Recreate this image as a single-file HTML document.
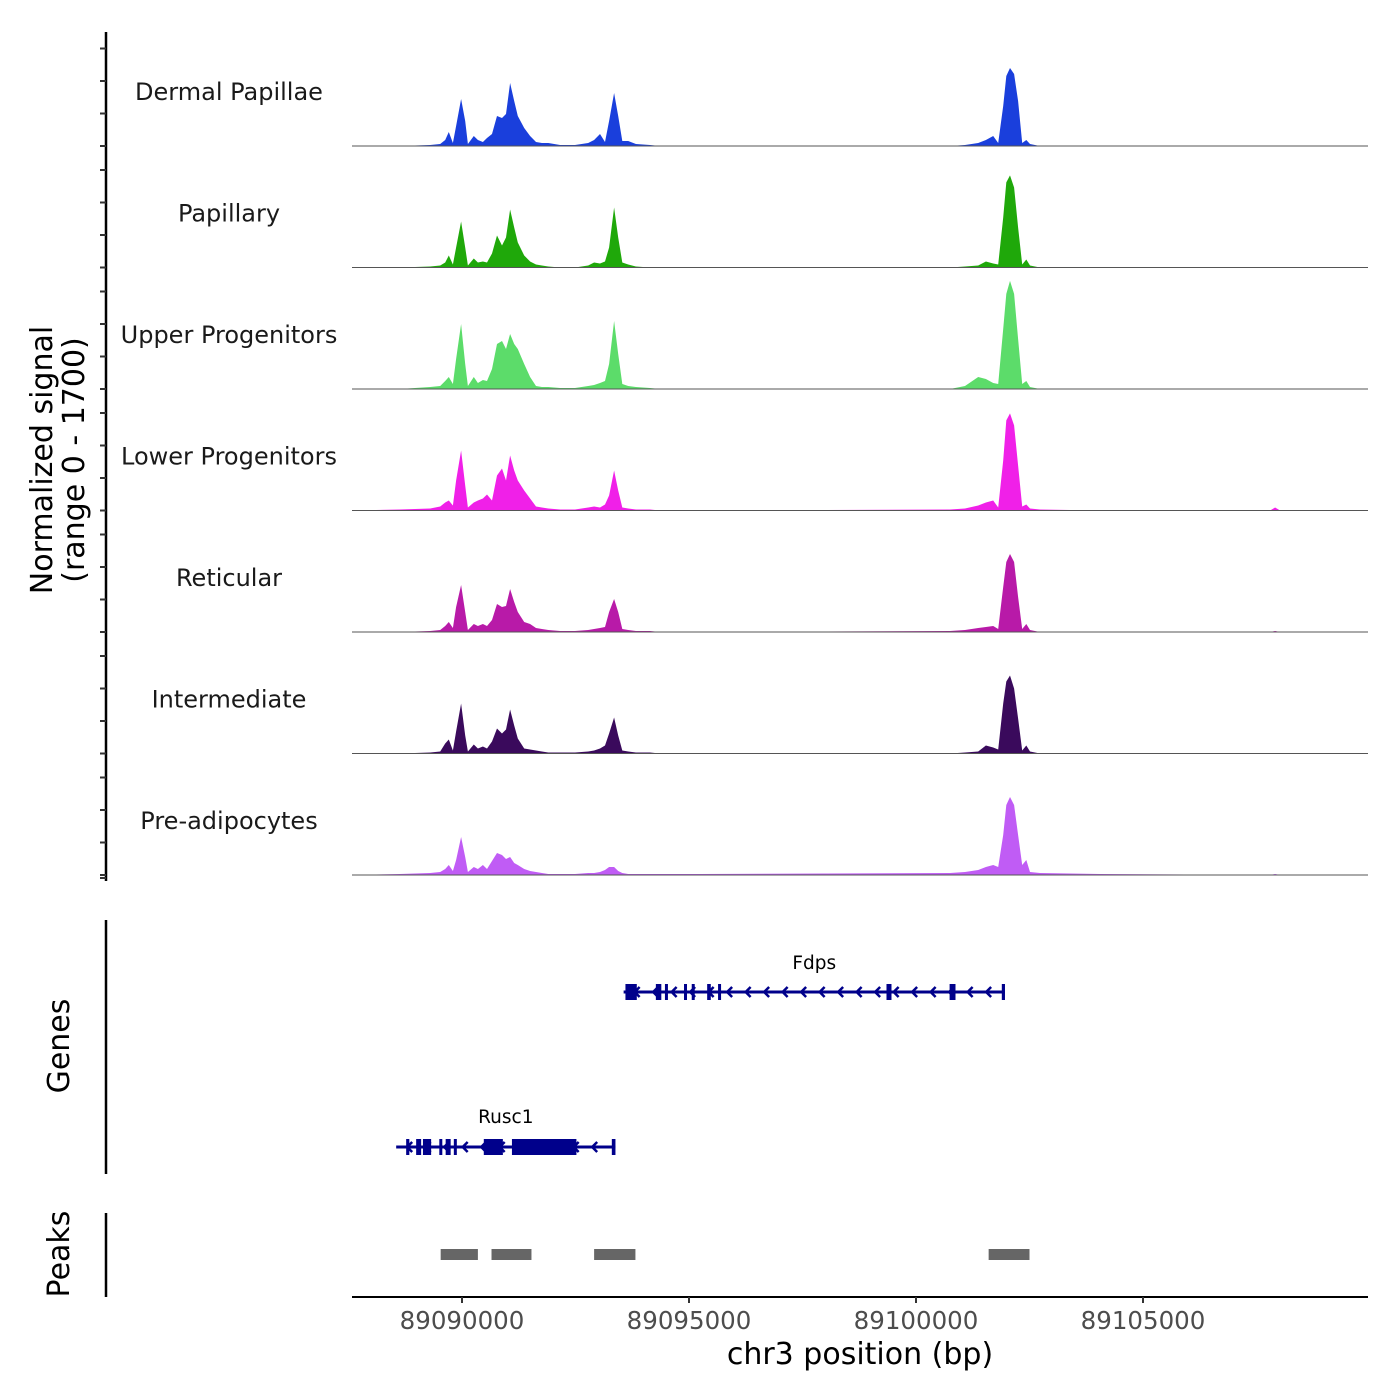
<!DOCTYPE html>
<html><head><meta charset="utf-8"><style>
html,body{margin:0;padding:0;background:#fff}
svg{display:block;font-family:"DejaVu Sans","Liberation Sans",sans-serif}
</style></head><body>
<svg id="chart" width="1400" height="1400" viewBox="0 0 1400 1400">
<g id="tracks"></g>
<g id="genes"></g>
<g id="peaks"></g>
<g id="axes"></g>
</svg>
<script>
const trackNames = ["Dermal Papillae","Papillary","Upper Progenitors","Lower Progenitors","Reticular","Intermediate","Pre-adipocytes"];
const trackColors = ["#1a3fdc","#1fa80a","#5cdc6a","#f020e8","#b81aa8","#3a0a5c","#c05cf5"];
const positions = [89087580,89088630,89089300,89089520,89089630,89089710,89089800,89089870,89089980,89090070,89090130,89090260,89090350,89090460,89090550,89090660,89090770,89090880,89090970,89091060,89091150,89091230,89091370,89091500,89091630,89091760,89091900,89092160,89092490,89092780,89092910,89093040,89093150,89093240,89093350,89093440,89093530,89093660,89093830,89094140,89094360,89095240,89100750,89101080,89101370,89101540,89101700,89101810,89101920,89101990,89102070,89102160,89102250,89102340,89102430,89102510,89102730,89104060,89107800,89107910,89108020,89109950];
const dermalPapillae = [0,0,14,28,84,196,42,280,658,350,28,140,84,56,112,168,420,392,448,882,630,420,252,140,56,42,42,14,14,42,84,168,56,350,742,420,70,70,28,14,0,0,0,14,42,84,140,42,560,980,1092,1008,630,42,84,28,0,0,0,0,0,0];
const papillary = [0,0,14,28,70,168,42,280,644,280,28,126,70,84,70,196,448,308,420,812,560,350,168,84,42,28,14,0,0,28,70,56,84,280,840,420,70,42,14,0,0,0,0,14,28,84,56,42,700,1190,1288,1120,560,42,112,28,0,0,0,0,0,0];
const upperProgenitors = [0,0,28,42,112,168,70,420,910,350,42,168,84,126,112,280,630,672,560,770,630,560,350,168,42,28,28,14,14,42,56,84,112,350,952,490,70,42,28,14,0,0,0,42,168,140,84,70,840,1330,1512,1330,700,70,112,28,0,0,0,0,0,0];
const lowerProgenitors = [0,14,28,56,112,140,70,420,840,350,42,112,140,168,224,140,490,588,420,770,560,420,280,168,56,42,28,14,14,42,56,42,84,210,560,280,42,28,14,14,0,0,14,28,70,112,140,42,700,1260,1358,1190,630,56,84,28,14,0,0,42,0,0];
const reticular = [0,0,14,28,84,140,56,350,658,280,28,112,84,112,84,168,392,350,364,602,420,280,140,112,56,42,28,14,14,28,42,56,70,280,462,280,42,28,14,14,0,0,14,28,56,70,84,42,630,980,1092,980,490,42,112,28,0,0,0,14,0,0];
const intermediate = [0,0,14,28,140,196,42,308,700,252,28,126,70,98,70,168,350,280,336,616,392,210,70,56,42,28,14,14,14,28,42,70,112,280,504,252,42,28,14,14,0,0,0,14,28,112,84,56,700,1008,1092,910,490,42,112,28,0,0,0,0,0,0];
const preAdipocytes = [0,14,28,42,84,140,56,210,532,252,42,112,84,140,84,196,308,280,224,252,168,140,84,56,42,28,14,14,14,28,28,42,70,112,112,56,28,14,14,14,14,14,28,42,70,112,140,112,560,980,1092,980,560,140,210,42,28,14,0,14,0,0];
const xTicks = [89090000,89095000,89100000,89105000];
const xTickLabels = ["89090000","89095000","89100000","89105000"];
const fdpsExons = [[89093600,89093850],[89094270,89094390],[89094470,89094530],[89094890,89094930],[89095060,89095110],[89095400,89095480],[89095640,89095700],[89099350,89099460],[89100740,89100870],[89101890,89101960]];
const rusc1Exons = [[89088770,89088840],[89088990,89089100],[89089140,89089320],[89089500,89089560],[89089640,89089750],[89089820,89089860],[89090480,89090900],[89091100,89092520],[89093300,89093380]];
const fdpsRange = [89093560,89101960];
const rusc1Range = [89088550,89093380];
const peakStarts = [89089530,89090650,89092910,89101600];
const peakEnds = [89090350,89091530,89093820,89102500];

const NS="http://www.w3.org/2000/svg";
const X0=352,X1=1368,BP0=89087577,BP1=89109956;
function xs(bp){return X0+(bp-BP0)/(BP1-BP0)*(X1-X0);}
const TRACK_H=121.5,YMAX=1700;
function ys(v,base){return base-v/YMAX*TRACK_H;}
function mk(tag,attrs,parent){const e=document.createElementNS(NS,tag);for(const k in attrs)e.setAttribute(k,attrs[k]);parent.appendChild(e);return e;}
const series=[dermalPapillae,papillary,upperProgenitors,lowerProgenitors,reticular,intermediate,preAdipocytes];
const gT=document.getElementById('tracks');
series.forEach((vals,i)=>{
  const base=146+i*121.5;
  let d=`M${xs(positions[0])},${base}`;
  positions.forEach((p,j)=>{d+=` L${xs(p).toFixed(1)},${ys(vals[j],base).toFixed(1)}`;});
  d+=` L${xs(positions[positions.length-1])},${base} Z`;
  const a=mk('path',{d:d,fill:trackColors[i]},gT);
  
  
  const l=mk('line',{x1:X0,x2:X1,y1:base,y2:base,stroke:'#555','stroke-width':1},gT);
  
  
  const t=mk('text',{x:229,y:base-46,'text-anchor':'middle','font-size':24,fill:'#1a1a1a'},gT);
  t.textContent=trackNames[i];
  
  
});
const gG=document.getElementById('genes');
function gene(name,range,exons,y,labelY){
  const g=mk('g',{},gG);
  
  
  mk('line',{x1:xs(range[0]),x2:xs(range[1]),y1:y,y2:y,stroke:'#00008b','stroke-width':3},g);
  for(let x=xs(range[0])+12;x<xs(range[1])-6;x+=18.5){
    mk('path',{d:`M${x+4},${y-5} L${x-1},${y} L${x+4},${y+5}`,fill:'none',stroke:'#00008b','stroke-width':2.5},g);
  }
  exons.forEach(e=>{const w=xs(e[1])-xs(e[0]);mk('rect',{x:xs(e[0]),y:y-8,width:Math.max(w,3),height:16,fill:'#00008b'},g);});
  const t=mk('text',{x:(xs(range[0])+xs(range[1]))/2,y:labelY,'text-anchor':'middle','font-size':18.5,fill:'#000'},g);
  t.textContent=name;
}
gene('Fdps',fdpsRange,fdpsExons,992,969);
gene('Rusc1',rusc1Range,rusc1Exons,1147,1123);
const gP=document.getElementById('peaks');
peakStarts.forEach((s,i)=>{
  const r=mk('rect',{x:xs(s),y:1249,width:xs(peakEnds[i])-xs(s),height:11,fill:'#666'},gP);
  
  
});
const gA=document.getElementById('axes');
mk('line',{x1:X0,x2:X1,y1:1297,y2:1297,stroke:'#000','stroke-width':2},gA);
xTicks.forEach((v,i)=>{
  mk('line',{x1:xs(v),x2:xs(v),y1:1297,y2:1303,stroke:'#333','stroke-width':2},gA);
  const t=mk('text',{x:xs(v),y:1329,'text-anchor':'middle','font-size':24.5,fill:'#4d4d4d'},gA);
  t.textContent=xTickLabels[i];
  
  
});
const xt=mk('text',{x:860,y:1364,'text-anchor':'middle','font-size':30,fill:'#000'},gA);
xt.textContent='chr3 position (bp)';


mk('line',{x1:106,x2:106,y1:32,y2:881,stroke:'#000','stroke-width':2.5},gA);
mk('line',{x1:106,x2:106,y1:920,y2:1174,stroke:'#000','stroke-width':2.5},gA);
mk('line',{x1:106,x2:106,y1:1213,y2:1297,stroke:'#000','stroke-width':2.5},gA);
for(let i=0;i<7;i++){const base=146+i*121.5;for(let k=0;k<4;k++){const y=base-k*32.5;mk('line',{x1:100,x2:106,y1:y,y2:y,stroke:'#333','stroke-width':2},gA);}}
mk('line',{x1:100,x2:106,y1:878,y2:878,stroke:'#333','stroke-width':2},gA);
function vt(txt,x,y,name){const t=mk('text',{x:x,y:y,'text-anchor':'middle','font-size':30,fill:'#000',transform:`rotate(-90 ${x} ${y})`},gA);t.textContent=txt;
 
 }
vt('Normalized signal',52,460,'y-axis-title');
vt('(range 0 - 1700)',84,460,'y-axis-range');
vt('Genes',69,1046,'genes-axis-title');
vt('Peaks',69,1254,'peaks-axis-title');
</script>
</body></html>
